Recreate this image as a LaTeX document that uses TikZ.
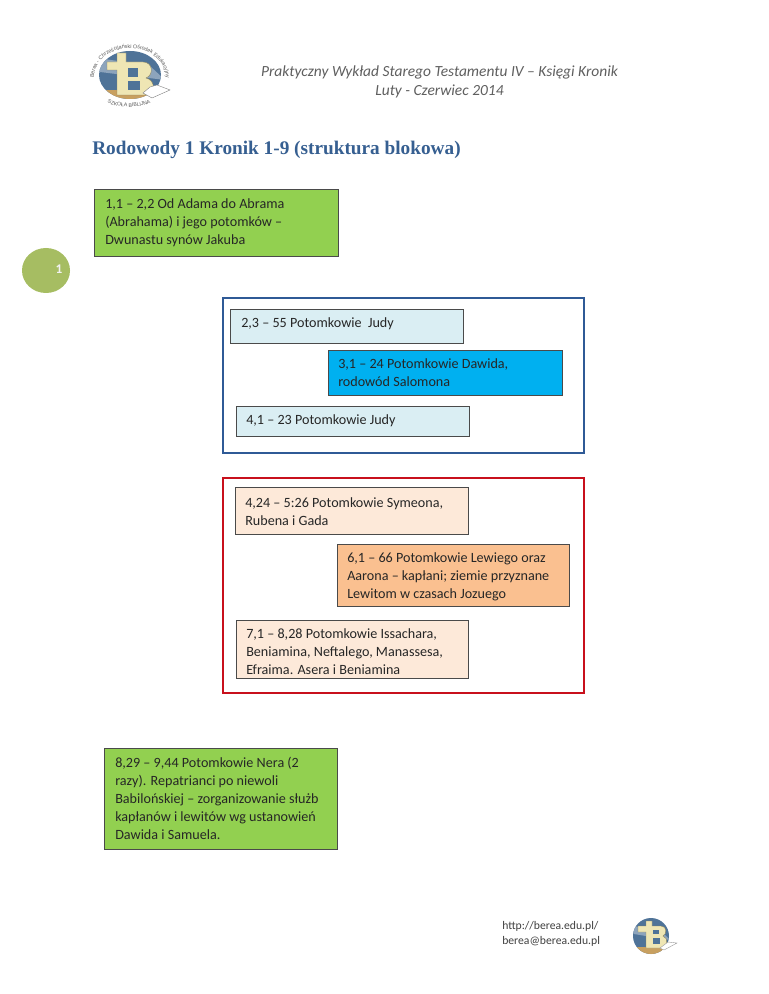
\documentclass[tikz,border=0pt]{standalone}
\usepackage{fontspec}
\setmainfont{Carlito}
\newfontfamily\titlefont{Liberation Serif}
\newfontfamily\logofont{Liberation Sans}
\usetikzlibrary{decorations.text,shapes.geometric}
\definecolor{greenbox}{HTML}{92D050}
\definecolor{paleblue}{HTML}{DAEEF3}
\definecolor{cyanbox}{HTML}{00B0F0}
\definecolor{palepeach}{HTML}{FDE9D9}
\definecolor{peachbox}{HTML}{FAC090}
\definecolor{frameblue}{HTML}{2F5A96}
\definecolor{framered}{HTML}{C8101C}
\definecolor{titleblue}{HTML}{365F91}
\definecolor{circlegreen}{HTML}{A6BD62}
\definecolor{headgray}{HTML}{5F5F5F}
\definecolor{boxedge}{HTML}{4A4A4A}
\definecolor{bodytext}{HTML}{262626}
\definecolor{cream}{HTML}{EFE6B4}
\definecolor{creamedge}{HTML}{8E8660}
\definecolor{skyblue}{HTML}{4F7398}
\definecolor{sand}{HTML}{C8A060}
\tikzset{
  x=0.75pt,y=-0.75pt,
  plainbox/.style={draw=boxedge,line width=0.95pt,anchor=north west,inner sep=0pt},
  boxtext/.style={anchor=west,inner sep=0pt,text=bodytext,
    font=\fontsize{10.6}{13.6}\selectfont,align=left},
  frame/.style={line width=1.7pt,miter limit=10},
  header/.style={font=\fontsize{11.6}{14}\selectfont\itshape,text=headgray,anchor=center},
  foot/.style={font=\fontsize{8.75}{11.25}\selectfont,text=black!75,align=left,anchor=west,inner sep=0pt},
  logoglyph/.style={fill=cream,draw=creamedge,line width=0.3pt},
}
\begin{document}
\begin{tikzpicture}
\useasboundingbox (0,0) rectangle (768,994);
\fill[white] (0,0) rectangle (768,994);

% logo top
\begin{scope}
  \fill[skyblue] (130,75) ellipse [x radius=31*0.75pt,y radius=24*0.75pt];
  \begin{scope}
    \clip (130,75) ellipse [x radius=31*0.75pt,y radius=24*0.75pt];
    \fill[sand] (95,90) rectangle (165,100);
    \fill[skyblue!65!white] (98,58) -- (150,66) -- (165,80) -- (100,72) -- cycle;
  \end{scope}
  \path[decorate,decoration={text along path,text align=center,
     text={|\logofont\fontsize{4.0}{5}\selectfont\color{black!65}|Berea - Chrześcijański Ośrodek Edukacyjny}}]
     (95.2,85.8) arc[start angle=165,end angle=375,x radius=36,y radius=30];
  \path[decorate,decoration={text along path,text align=center,
     text={|\logofont\fontsize{3.9}{5}\selectfont\color{black!65}|SZKOŁA BIBLIJNA}}]
     (104,101) .. controls (116,109) and (142,109) .. (154,101);
  \fill[logoglyph] (107,62) -- (117,62) -- (117,53) -- (126,53) -- (126,62) -- (143,62)
     .. controls (153,62) and (154,75) .. (146,78)
     .. controls (156,80) and (156,95) .. (144,95) -- (117,95) -- (117,70) -- (107,70) -- cycle;
  \fill[skyblue] (128,68) rectangle (138,77);
  \fill[skyblue] (128,81) rectangle (140,90);
  \fill[white,draw=black!50,line width=0.3pt] (143,93) -- (150,87) -- (157,85) -- (170,90) -- (152,98) -- cycle;
\end{scope}

% header
\node[header] (head1) at (439.5,72) {Praktyczny Wykład Starego Testamentu IV – Księgi Kronik};
\node[header] (head2) at (439.5,91) {Luty - Czerwiec 2014};

% title
\node[anchor=west,inner sep=0pt,font=\titlefont\bfseries\fontsize{14.45}{17}\selectfont,text=titleblue] (title) at (92,149.5) {Rodowody 1 Kronik 1-9 (struktura blokowa)};

% page circle
\node[ellipse,fill=circlegreen,minimum width=36pt,minimum height=33.75pt,inner sep=0pt] (page) at (46,270.5) {};
\node[font=\bfseries\fontsize{10}{12}\selectfont,text=white!95!black] (pagenum) at (59,269) {1};

% frames
\draw[frame,draw=frameblue] (223,298) rectangle (584,453);
\draw[frame,draw=framered] (223,478) rectangle (584,693);

% boxes
\node[plainbox,fill=greenbox,minimum width=244*0.75pt,minimum height=67*0.75pt] (a) at (94,189) {};
\node[boxtext] (at) at (105,222.5) {1,1 – 2,2 Od Adama do Abrama\\(Abrahama) i jego potomków –\\Dwunastu synów Jakuba};

\node[plainbox,fill=paleblue,minimum width=233*0.75pt,minimum height=34*0.75pt] (b) at (230,309) {};
\node[boxtext] (bt) at (241,324) {2,3 – 55 Potomkowie\ \ Judy};

\node[plainbox,fill=cyanbox,minimum width=234*0.75pt,minimum height=45*0.75pt] (c) at (328,350) {};
\node[boxtext] (ct) at (338,373) {3,1 – 24 Potomkowie Dawida,\\rodowód Salomona};

\node[plainbox,fill=paleblue,minimum width=233*0.75pt,minimum height=30*0.75pt] (d) at (236,406) {};
\node[boxtext] (dt) at (246,421) {4,1 – 23 Potomkowie Judy};

\node[plainbox,fill=palepeach,minimum width=233*0.75pt,minimum height=47*0.75pt] (e) at (235,487) {};
\node[boxtext] (et) at (245,511.5) {4,24 – 5:26 Potomkowie Symeona,\\Rubena i Gada};

\node[plainbox,fill=peachbox,minimum width=232*0.75pt,minimum height=62*0.75pt] (f) at (337,544) {};
\node[boxtext] (ft) at (347,577) {6,1 – 66 Potomkowie Lewiego oraz\\Aarona – kapłani; ziemie przyznane\\Lewitom w czasach Jozuego};

\node[plainbox,fill=palepeach,minimum width=232*0.75pt,minimum height=58*0.75pt] (g) at (236,620) {};
\node[boxtext] (gt) at (246,652) {7,1 – 8,28 Potomkowie Issachara,\\Beniamina, Neftalego, Manassesa,\\Efraima. Asera i Beniamina};

\node[plainbox,fill=greenbox,minimum width=233*0.75pt,minimum height=101*0.75pt] (h) at (104,748) {};
\node[boxtext] (ht) at (115,798.5) {8,29 – 9,44 Potomkowie Nera (2\\razy). Repatrianci po niewoli\\Babilońskiej – zorganizowanie służb\\kapłanów i lewitów wg ustanowień\\Dawida i Samuela.};

% footer
\node[foot] (foot) at (502,934) {http://berea.edu.pl/\\berea@berea.edu.pl};

% logo bottom
\begin{scope}
  \fill[skyblue] (651,936) circle (18);
  \begin{scope}
    \clip (651,936) circle (18);
    \fill[sand] (630,947) rectangle (672,956);
    \fill[skyblue!65!white] (633,926) -- (660,930) -- (670,940) -- (634,934) -- cycle;
  \end{scope}
  \fill[logoglyph] (638,926) -- (646,926) -- (646,921) -- (652,921) -- (652,926) -- (661,926)
     .. controls (667,926) and (667,934) .. (663,936)
     .. controls (669,938) and (668,948) .. (660,948) -- (646,948) -- (646,932) -- (638,932) -- cycle;
  \fill[skyblue] (653,930) rectangle (659,934);
  \fill[skyblue] (653,938) rectangle (660,944);
  \fill[white,draw=black!40,line width=0.3pt] (660,948) -- (668,942) -- (677,943) -- (664,950) -- cycle;
\end{scope}
\end{tikzpicture}
\end{document}
